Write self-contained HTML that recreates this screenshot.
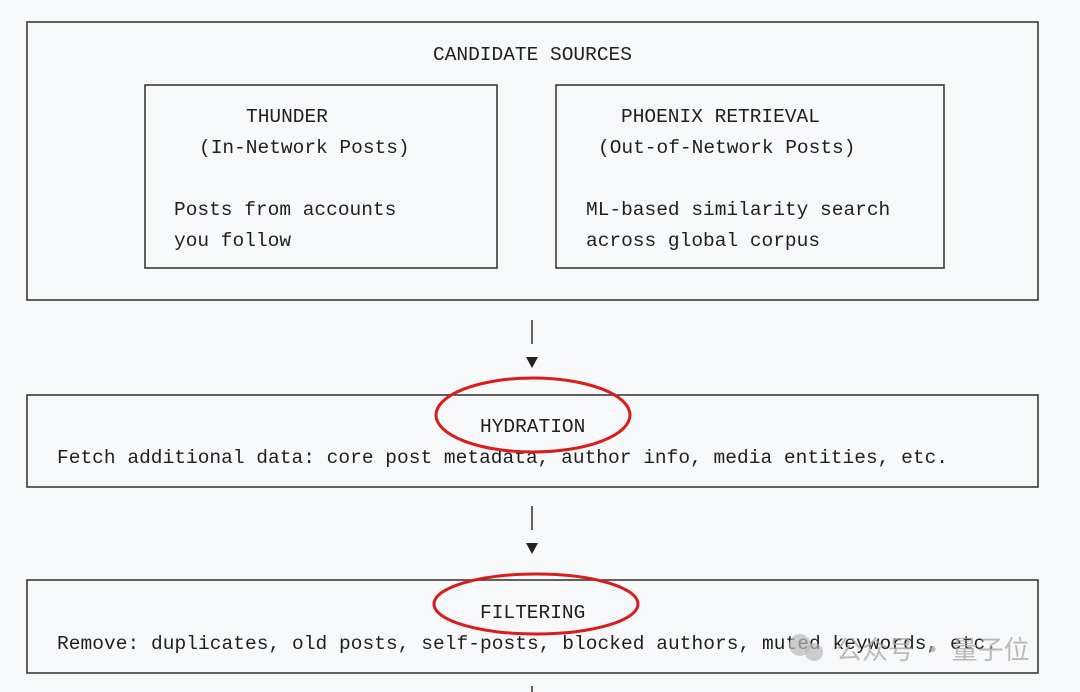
<!DOCTYPE html>
<html><head><meta charset="utf-8"><style>
html,body{margin:0;padding:0;background:#f6f8fa;}
svg{display:block}
text{font-family:"Liberation Mono",monospace;font-size:19.5px;fill:#1f1f1f;}
</style></head><body>
<svg width="1080" height="692" viewBox="0 0 1080 692" xmlns="http://www.w3.org/2000/svg">
<g fill="none" stroke="#3a3a3a" stroke-width="1.6">
<rect x="27" y="22" width="1011" height="278" stroke-dasharray="none"/>
<rect x="145" y="85" width="352" height="183"/>
<rect x="556" y="85" width="388" height="183"/>
<rect x="27" y="395" width="1011" height="92"/>
<rect x="27" y="580" width="1011" height="93"/>
<line x1="532" y1="320" x2="532" y2="344"/>
<line x1="532" y1="506" x2="532" y2="530"/>
<line x1="532" y1="686" x2="532" y2="692"/>
</g>
<polygon points="526,357 538,357 532,368" fill="#222"/>
<polygon points="526,543 538,543 532,554" fill="#222"/>
<text x="433" y="60">CANDIDATE SOURCES</text>
<text x="246" y="122">THUNDER</text>
<text x="199" y="153">(In-Network Posts)</text>
<text x="174" y="215">Posts from accounts</text>
<text x="174" y="246">you follow</text>
<text x="621" y="122">PHOENIX RETRIEVAL</text>
<text x="598" y="153">(Out-of-Network Posts)</text>
<text x="586" y="215">ML-based similarity search</text>
<text x="586" y="246">across global corpus</text>
<text x="480" y="432">HYDRATION</text>
<text x="57" y="463" textLength="891">Fetch additional data: core post metadata, author info, media entities, etc.</text>
<text x="480" y="618">FILTERING</text>
<text x="57" y="649" textLength="940">Remove: duplicates, old posts, self-posts, blocked authors, muted keywords, etc.</text>
<ellipse cx="533" cy="415" rx="97" ry="37" fill="none" stroke="#d91c1c" stroke-width="3"/>
<ellipse cx="536" cy="604" rx="102" ry="30" fill="none" stroke="#d91c1c" stroke-width="3"/>
<circle cx="800" cy="645" r="11" fill="#bbb" opacity="0.7"/>
<circle cx="814" cy="652" r="9" fill="#bbb" opacity="0.7"/>
<text x="836" y="659" style="font-family:'Noto Sans CJK SC',sans-serif;font-size:26px;fill:#aaa;opacity:0.8">公众号 · 量子位</text>
</svg>
</body></html>
